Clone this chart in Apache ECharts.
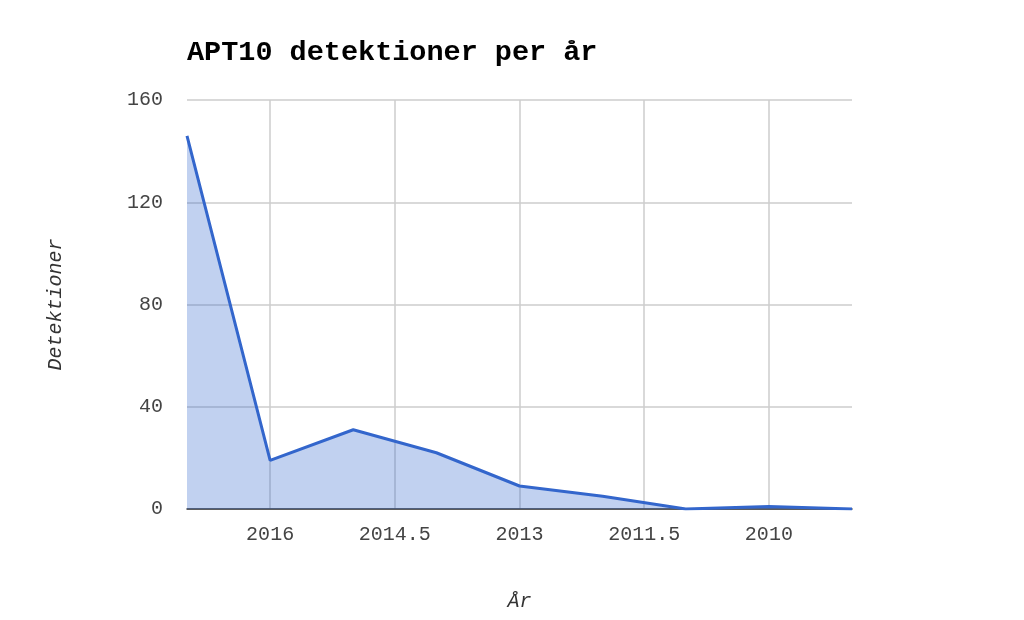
<!DOCTYPE html>
<html>
<head>
<meta charset="utf-8">
<script src="https://cdn.jsdelivr.net/npm/echarts@6/dist/echarts.min.js"></script>
<style>html,body{margin:0;padding:0;background:#fff}#c{width:1024px;height:620px}</style>
</head>
<body>
<div id="c"></div>
<script>
const years = [2017, 2016, 2015, 2014, 2013, 2012, 2011, 2010, 2009];
const detections = [146, 19, 31, 22, 9, 5, 0, 1, 0];
const xTicks = [2016, 2014.5, 2013, 2011.5, 2010];
const yTicks = [0, 40, 80, 120, 160];

const FONT = "'Liberation Mono', 'DejaVu Sans Mono', monospace";
const chart = echarts.init(document.getElementById('c'), null, {renderer: 'canvas'});
chart.setOption({
  animation: false,
  backgroundColor: '#ffffff',
  title: {
    text: 'APT10 detektioner per år',
    left: 182, top: 33,
    textStyle: {fontFamily: FONT, fontWeight: 'bold', fontSize: 28.5, color: '#000'}
  },
  grid: {left: 187, right: 172, top: 100, bottom: 111},
  xAxis: {
    type: 'value',
    inverse: true,
    min: Math.min(...years),
    max: Math.max(...years),
    name: 'År',
    nameLocation: 'middle',
    nameGap: 83,
    nameTextStyle: {fontFamily: FONT, fontStyle: 'italic', fontSize: 20, color: '#333'},
    axisLine: {show: true, onZero: true, lineStyle: {color: '#333', width: 1.5}},
    axisTick: {show: false, customValues: xTicks},
    axisLabel: {customValues: xTicks, formatter: v => String(v), fontFamily: FONT, fontSize: 20, color: '#444', margin: 16},
    splitLine: {show: true, lineStyle: {color: '#cccccc', width: 1.5}}
  },
  yAxis: {
    type: 'value',
    min: yTicks[0],
    max: yTicks[yTicks.length - 1],
    interval: 40,
    name: 'Detektioner',
    nameLocation: 'middle',
    nameGap: 121,
    nameTextStyle: {fontFamily: FONT, fontStyle: 'italic', fontSize: 20, color: '#333'},
    axisLine: {show: false},
    axisTick: {show: false},
    axisLabel: {fontFamily: FONT, fontSize: 20, color: '#444', margin: 24},
    splitLine: {show: true, lineStyle: {color: '#cccccc', width: 1.5}}
  },
  series: [{
    type: 'line',
    data: years.map((y, i) => [y, detections[i]]),
    showSymbol: false,
    symbol: 'none',
    lineStyle: {color: '#3366cc', width: 3},
    areaStyle: {color: '#3366cc', opacity: 0.3},
    z: 2
  }]
});
</script>
</body>
</html>
